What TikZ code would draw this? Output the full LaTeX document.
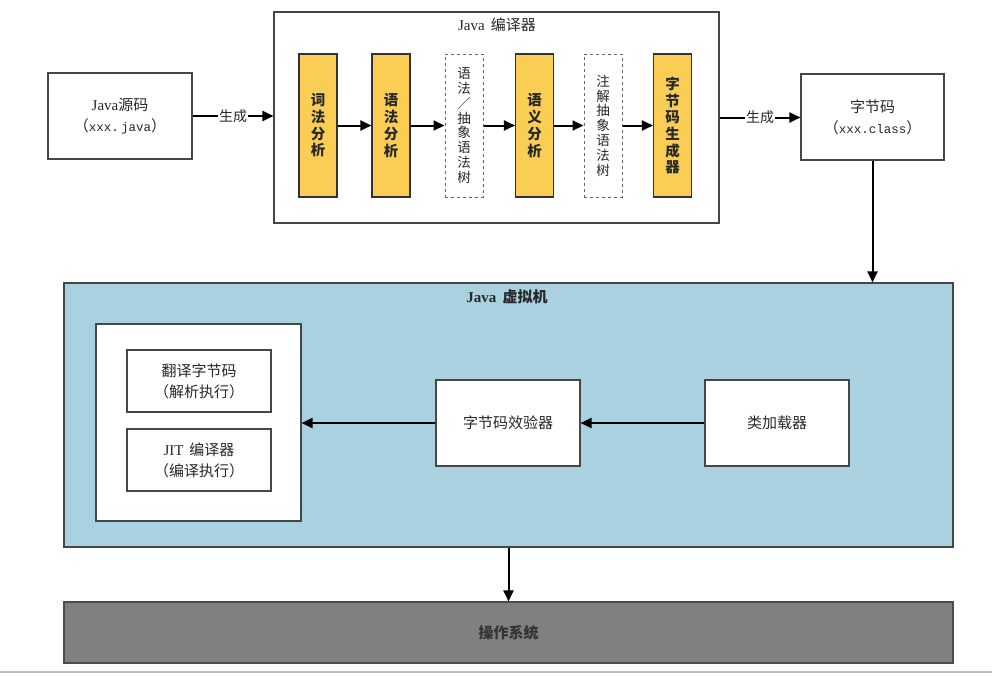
\documentclass[tikz,border=0pt]{standalone}
\usepackage{fontspec}
\setmainfont{Liberation Serif}
\setmonofont{Liberation Mono}
\newfontfamily\cjk{Noto Sans CJK SC}
\usetikzlibrary{arrows.meta}
\definecolor{yel}{RGB}{250,206,84}
\definecolor{jvmblue}{RGB}{169,209,223}
\definecolor{osgray}{RGB}{128,128,128}
\definecolor{edgec}{RGB}{70,70,70}
\definecolor{txt}{RGB}{40,40,40}
\begin{document}
\begin{tikzpicture}[x=1pt,y=-1pt,
  box/.style={draw=edgec, line width=1.1pt, fill=white, inner sep=0pt, align=center, text=txt,
    font=\cjk\fontsize{15}{21}\selectfont},
  ybox/.style={draw=black!80, line width=1.1pt, fill=yel, inner sep=0pt, align=center,
    minimum width=38, minimum height=143, text=txt, font=\cjk\bfseries\fontsize{14.5}{16.7}\selectfont},
  dbox/.style={draw=black!60, dashed, line width=1pt, fill=white, inner sep=0pt, align=center,
    minimum width=38, minimum height=143, text=txt, font=\cjk\fontsize{13.5}{14.8}\selectfont},
  arr/.style={line width=2pt, draw=black, -{Triangle[length=11pt,width=10pt]}},
  lbl/.style={fill=white, inner sep=1pt, text=txt, font=\cjk\fontsize{14}{16}\selectfont},
  title/.style={inner sep=0pt, text=txt, font=\fontsize{15}{17}\selectfont}
]
\useasboundingbox (0,0) rectangle (992,675);
\fill[white] (0,0) rectangle (992,675);

% compiler
\node[box, minimum width=445, minimum height=211] (comp) at (496.5,117.5) {};
\node[title] (comptitle) at (497,25) {Java\, {\cjk 编译器}};

\node[box, minimum width=144, minimum height=86] (src) at (120,116)
  {{\rmfamily Java}源码\\（{\ttfamily\fontsize{12.5}{21}\selectfont xxx.\,java}）};

\node[ybox] (lex) at (318,125.5) {词\\法\\分\\析};
\node[ybox] (syn) at (391,125.5) {语\\法\\分\\析};
\node[dbox] (ast) at (464,125.5) {语\\法\\／\\抽\\象\\语\\法\\树};
\node[ybox] (sem) at (534.5,125.5) {语\\义\\分\\析};
\node[dbox] (aast) at (603,125.5) {注\\解\\抽\\象\\语\\法\\树};
\node[ybox] (gen) at (672.5,125.5) {字\\节\\码\\生\\成\\器};

\node[box, minimum width=143, minimum height=86] (bc) at (872.5,117)
  {字节码\\（{\ttfamily\fontsize{12.5}{21}\selectfont xxx.class}）};

% JVM
\node[draw=edgec, line width=1.1pt, fill=jvmblue, minimum width=889, minimum height=264, inner sep=0pt] (jvm) at (508.5,415) {};
\node[title, font=\bfseries\fontsize{15}{17}\selectfont] (jvmtitle) at (507,297) {Java\, {\cjk 虚拟机}};

\node[box, minimum width=205, minimum height=197] (exec) at (198.5,422.5) {};
\node[box, minimum width=144, minimum height=62] (interp) at (199,381) {翻译字节码\\（解析执行）};
\node[box, minimum width=144, minimum height=62] (jit) at (199,460)
  {{\rmfamily JIT}\, 编译器\\（编译执行）};

\node[box, minimum width=144, minimum height=86] (verif) at (508,423) {字节码效验器};
\node[box, minimum width=144, minimum height=86] (loader) at (777,423) {类加载器};

% OS
\node[draw=black!70, line width=1.1pt, fill=osgray, minimum width=889, minimum height=61, inner sep=0pt,
  text=black!80, font=\cjk\bfseries\fontsize{15}{17}\selectfont] (os) at (508.5,632.5) {操作系统};

% connectors
\draw[arr] (src.east) -- node[lbl] {生成} (src.east -| comp.west);
\draw[arr] (lex.east) -- (syn.west);
\draw[arr] (syn.east) -- (ast.west);
\draw[arr] (ast.east) -- (sem.west);
\draw[arr] (sem.east) -- (aast.west);
\draw[arr] (aast.east) -- (gen.west);
\draw[arr] (comp.east) -- node[lbl] {生成} (comp.east -| bc.west);
\draw[arr] (bc.south) -- (bc.south |- jvm.north);
\draw[arr] (loader.west) -- (verif.east);
\draw[arr] (verif.west) -- (verif.west -| exec.east);
\draw[arr] (jvm.south) -- (os.north);

\draw[black!25, line width=2pt] (0,672) -- (992,672);
\end{tikzpicture}
\end{document}
